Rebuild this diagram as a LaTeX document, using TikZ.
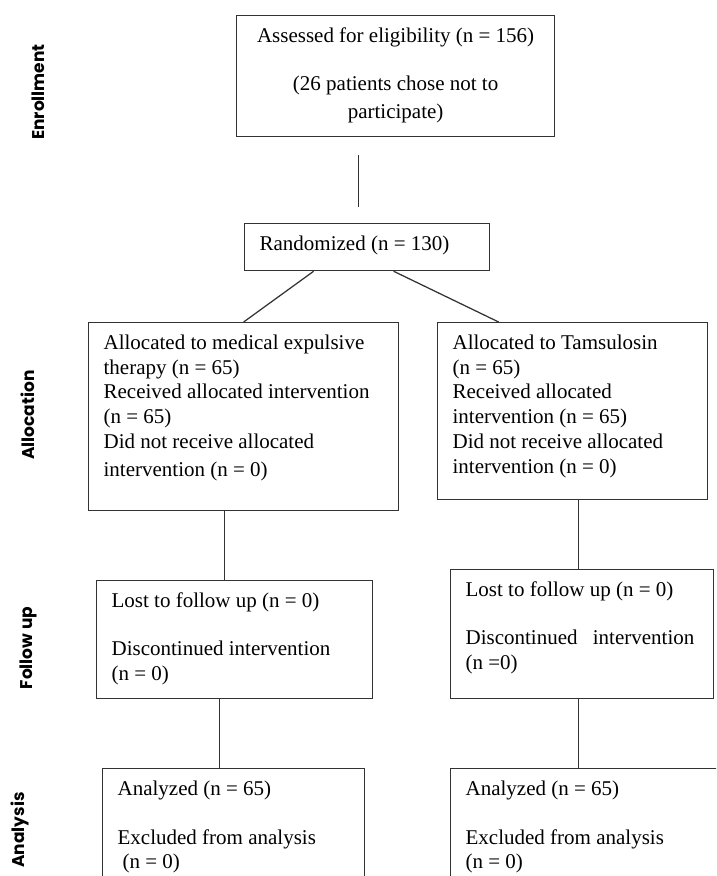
\documentclass[tikz,border=0pt]{standalone}
\usepackage{fontspec}
\setmainfont{Liberation Serif}
\newfontfamily\phasefont{Poppins}
\usepackage{tikz}
\usetikzlibrary{calc, positioning}
\newcommand{\flowtext}[3]{\parbox[c][#2][t]{#1}{\raggedright #3}}

\begin{document}
\begin{tikzpicture}[x=1pt, y=-1pt, stage/.style={draw=black!80, line width=1.25pt, anchor=north west, inner xsep=15pt, inner ysep=12pt, font=\fontsize{21}{24.8}\selectfont}, phase/.style={rotate=90, font=\phasefont\bfseries\fontsize{17}{20}\selectfont}, link/.style={draw=black!80, line width=1.25pt}]
      \useasboundingbox (0,0) rectangle (716,876);
      \clip (0,0) rectangle (716,876);
      \node[phase] (enrolment) at (38,92) {Enrollment};
      \node[phase] (allocation) at (28,415) {Allocation};
      \node[phase] (followup) at (28,648) {Follow up};
      \node[phase] (analysis) at (20,830) {Analysis};
      \node[stage] (enrol) at (236,15) {\flowtext{288pt}{97pt}{\centering Assessed for eligibility (n = 156)\\[23pt] (26 patients chose not to\\[3pt] participate)}};
      \node[stage] (rand) at (244,223) {\flowtext{215pt}{23pt}{Randomized (n = 130)}};
      \node[stage] (alloc_l) at (88,322) {\flowtext{280pt}{164pt}{Allocated to medical expulsive\\ therapy (n = 65)\\ Received allocated intervention\\ (n = 65)\\ Did not receive allocated\\[3pt] intervention (n = 0)}};
      \node[stage] (alloc_r) at (437,322) {\flowtext{240pt}{153pt}{Allocated to Tamsulosin\\ (n = 65)\\ Received allocated\\ intervention (n = 65)\\ Did not receive allocated\\ intervention (n = 0)}};
      \node[stage] (fu_l) at (96,580) {\flowtext{246pt}{94pt}{Lost to follow up (n = 0)\\[23pt] Discontinued intervention\\ (n = 0)}};
      \node[stage] (fu_r) at (450,569) {\flowtext{233pt}{105pt}{Lost to follow up (n = 0)\\[23pt] Discontinued\hspace{10pt} intervention\\ (n =0)}};
      \node[stage] (ana_l) at (102,768) {\flowtext{232pt}{140pt}{Analyzed (n = 65)\\[24pt] Excluded from analysis\\ \hspace*{5pt}(n = 0)}};
      \node[stage] (ana_r) at (450,768) {\flowtext{250pt}{140pt}{Analyzed (n = 65)\\[24pt] Excluded from analysis\\ (n = 0)}};
      \coordinate (drop_top) at ([xshift=-37pt, yshift=-18pt]enrol.south);
      \coordinate (drop_bot) at ([xshift=-8.5pt, yshift=16pt]rand.north);
      \draw[link] (drop_top) -- (drop_bot);
      \draw[link] ([xshift=-53.5pt]rand.south) -- (alloc_l.north);
      \draw[link] ([xshift=26.5pt]rand.south) -- ([xshift=-74pt]alloc_r.north);
      \draw[link] ([xshift=-19pt]alloc_l.south) -- ([xshift=-19pt]alloc_l.south |- fu_l.north);
      \draw[link] ([xshift=-15pt]fu_l.south) -- ([xshift=-15pt]fu_l.south |- ana_l.north);
      \draw[link] ([xshift=6pt]alloc_r.south) -- ([xshift=6pt]alloc_r.south |- fu_r.north);
      \draw[link] ([xshift=-3.5pt]fu_r.south) -- ([xshift=-3.5pt]fu_r.south |- ana_r.north);
    \end{tikzpicture}
\end{document}
